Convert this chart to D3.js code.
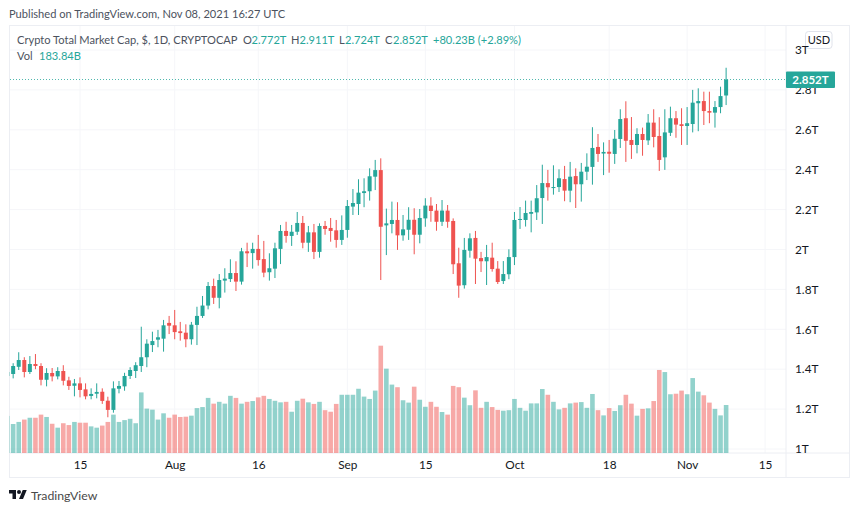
<!DOCTYPE html>
<html>
<head>
<meta charset="utf-8">
<style>
  html, body { margin: 0; padding: 0; background: #fff; }
  svg { display: block; }
  text { font-family: Lato, sans-serif; fill: #131722; }
  .axis path, .axis line { display: none; }
</style>
</head>
<body>
<div id="chart"></div>
<script src="https://cdn.jsdelivr.net/npm/d3@7"></script>
<script>
// date, open, high, low, close (in T), volume (in B)
const rows = [
["2021-07-02",1.366,1.416,1.351,1.386,142],["2021-07-03",1.376,1.430,1.354,1.416,111],["2021-07-04",1.412,1.485,1.396,1.446,119],
["2021-07-05",1.446,1.460,1.359,1.386,128],["2021-07-06",1.386,1.466,1.376,1.426,135],["2021-07-07",1.426,1.476,1.400,1.416,135],
["2021-07-08",1.416,1.430,1.319,1.347,147],["2021-07-09",1.347,1.405,1.314,1.381,138],["2021-07-10",1.381,1.406,1.339,1.364,112],
["2021-07-11",1.364,1.410,1.349,1.391,97],["2021-07-12",1.391,1.420,1.319,1.342,114],["2021-07-13",1.344,1.362,1.296,1.316,107],
["2021-07-14",1.317,1.351,1.264,1.329,119],["2021-07-15",1.329,1.359,1.259,1.296,116],["2021-07-16",1.299,1.329,1.249,1.264,116],
["2021-07-17",1.266,1.304,1.249,1.276,102],["2021-07-18",1.277,1.329,1.254,1.286,97],["2021-07-19",1.287,1.304,1.226,1.241,105],
["2021-07-20",1.242,1.262,1.159,1.196,119],["2021-07-21",1.196,1.339,1.182,1.304,147],["2021-07-22",1.302,1.341,1.279,1.316,119],
["2021-07-23",1.314,1.382,1.292,1.366,126],["2021-07-24",1.366,1.410,1.351,1.396,131],["2021-07-25",1.391,1.435,1.356,1.420,114],
["2021-07-26",1.416,1.613,1.386,1.460,232],["2021-07-27",1.460,1.550,1.410,1.528,170],["2021-07-28",1.521,1.588,1.486,1.541,166],
["2021-07-29",1.548,1.597,1.510,1.560,128],["2021-07-30",1.553,1.647,1.488,1.620,152],["2021-07-31",1.632,1.667,1.576,1.618,135],
["2021-08-01",1.620,1.697,1.550,1.586,147],["2021-08-02",1.590,1.637,1.543,1.581,138],["2021-08-03",1.583,1.625,1.510,1.550,139],
["2021-08-04",1.550,1.637,1.523,1.623,143],["2021-08-05",1.622,1.713,1.521,1.667,172],["2021-08-06",1.667,1.767,1.657,1.719,176],
["2021-08-07",1.719,1.837,1.700,1.817,211],["2021-08-08",1.817,1.854,1.727,1.758,189],["2021-08-09",1.758,1.877,1.705,1.847,196],
["2021-08-10",1.844,1.906,1.784,1.854,189],["2021-08-11",1.852,1.951,1.837,1.882,219],["2021-08-12",1.882,1.941,1.792,1.839,211],
["2021-08-13",1.839,2.008,1.824,1.991,189],["2021-08-14",1.991,2.034,1.912,1.981,196],["2021-08-15",1.982,2.034,1.904,2.003,199],
["2021-08-16",2.003,2.073,1.919,1.947,213],["2021-08-17",1.952,2.043,1.861,1.884,219],["2021-08-18",1.886,1.981,1.844,1.906,207],
["2021-08-19",1.904,2.034,1.857,2.006,200],["2021-08-20",2.003,2.123,1.927,2.093,194],["2021-08-21",2.093,2.139,2.034,2.068,196],
["2021-08-22",2.068,2.123,2.018,2.089,158],["2021-08-23",2.089,2.188,2.073,2.133,200],["2021-08-24",2.133,2.168,2.006,2.034,208],
["2021-08-25",2.034,2.118,1.988,2.086,194],["2021-08-26",2.086,2.128,1.952,1.988,188],["2021-08-27",1.988,2.131,1.959,2.118,196],
["2021-08-28",2.118,2.143,2.074,2.103,164],["2021-08-29",2.108,2.158,2.039,2.093,158],["2021-08-30",2.096,2.148,2.009,2.048,188],
["2021-08-31",2.048,2.171,2.023,2.098,223],["2021-09-01",2.098,2.248,2.059,2.218,223],["2021-09-02",2.215,2.303,2.173,2.233,223],
["2021-09-03",2.228,2.352,2.173,2.285,246],["2021-09-04",2.283,2.357,2.212,2.292,216],["2021-09-05",2.292,2.407,2.245,2.367,207],
["2021-09-06",2.365,2.449,2.298,2.398,239],["2021-09-07",2.398,2.457,1.847,2.114,411],["2021-09-08",2.121,2.205,1.972,2.131,323],
["2021-09-09",2.128,2.240,2.081,2.148,262],["2021-09-10",2.148,2.237,1.998,2.071,252],["2021-09-11",2.071,2.173,2.044,2.101,202],
["2021-09-12",2.099,2.212,2.048,2.149,193],["2021-09-13",2.149,2.207,1.976,2.074,254],["2021-09-14",2.074,2.203,2.031,2.158,204],
["2021-09-15",2.156,2.257,2.114,2.220,177],["2021-09-16",2.220,2.262,2.139,2.193,196],["2021-09-17",2.195,2.228,2.094,2.139,177],
["2021-09-18",2.139,2.248,2.118,2.195,157],["2021-09-19",2.195,2.223,2.109,2.139,147],["2021-09-20",2.143,2.156,1.877,1.926,257],
["2021-09-21",1.931,2.009,1.758,1.819,252],["2021-09-22",1.821,2.058,1.804,1.998,212],["2021-09-23",1.994,2.081,1.959,2.056,183],
["2021-09-24",2.058,2.093,1.827,1.954,240],["2021-09-25",1.957,1.988,1.887,1.941,173],["2021-09-26",1.941,2.023,1.822,1.962,196],
["2021-09-27",1.959,2.034,1.889,1.902,176],["2021-09-28",1.904,1.942,1.827,1.837,165],["2021-09-29",1.842,1.942,1.827,1.877,162],
["2021-09-30",1.876,2.001,1.851,1.962,164],["2021-10-01",1.962,2.188,1.922,2.148,207],["2021-10-02",2.148,2.213,2.103,2.153,173],
["2021-10-03",2.148,2.245,2.115,2.183,162],["2021-10-04",2.179,2.245,2.086,2.188,190],["2021-10-05",2.186,2.323,2.148,2.257,190],
["2021-10-06",2.258,2.425,2.128,2.333,245],["2021-10-07",2.333,2.399,2.245,2.312,223],["2021-10-08",2.310,2.422,2.275,2.313,196],
["2021-10-09",2.313,2.402,2.288,2.357,167],["2021-10-10",2.353,2.419,2.242,2.295,173],["2021-10-11",2.295,2.439,2.237,2.365,190],
["2021-10-12",2.368,2.407,2.208,2.327,193],["2021-10-13",2.327,2.434,2.240,2.390,195],["2021-10-14",2.390,2.482,2.348,2.415,173],
["2021-10-15",2.414,2.613,2.325,2.509,226],["2021-10-16",2.514,2.579,2.439,2.479,164],["2021-10-17",2.481,2.537,2.373,2.489,144],
["2021-10-18",2.490,2.549,2.385,2.480,172],["2021-10-19",2.479,2.599,2.429,2.555,161],["2021-10-20",2.554,2.703,2.509,2.654,183],
["2021-10-21",2.658,2.743,2.439,2.545,223],["2021-10-22",2.549,2.664,2.454,2.524,189],["2021-10-23",2.524,2.608,2.482,2.579,143],
["2021-10-24",2.579,2.611,2.470,2.549,169],["2021-10-25",2.547,2.679,2.524,2.636,171],["2021-10-26",2.636,2.703,2.512,2.564,199],
["2021-10-27",2.569,2.663,2.394,2.449,318],["2021-10-28",2.462,2.703,2.399,2.587,310],["2021-10-29",2.585,2.716,2.569,2.658,225],
["2021-10-30",2.658,2.694,2.560,2.626,227],["2021-10-31",2.628,2.708,2.524,2.619,239],["2021-11-01",2.619,2.714,2.524,2.633,225],
["2021-11-02",2.629,2.800,2.587,2.736,287],["2021-11-03",2.733,2.808,2.593,2.744,235],["2021-11-04",2.744,2.791,2.624,2.694,221],
["2021-11-05",2.694,2.791,2.633,2.686,193],["2021-11-06",2.686,2.744,2.611,2.714,169],["2021-11-07",2.714,2.816,2.683,2.769,144],
["2021-11-08",2.772,2.911,2.724,2.852,183.84]
];

const parseDate = d3.utcParse("%Y-%m-%d");
const data = rows.map(r => ({date: parseDate(r[0]), o: r[1], h: r[2], l: r[3], c: r[4], v: r[5]}));

const green = "#26a69a", red = "#ef5350", border = "#eceef3", grid = "#f5f6f9";
const pane = {left: 9.5, right: 786, top: 25, bottom: 453};

const x = d3.scaleUtc()
  .domain([parseDate("2021-07-15"), parseDate("2021-11-15")])
  .range([80, 765.1]);
const y = d3.scaleLinear().domain([1, 3]).range([449, 50]);
const yVol = d3.scaleLinear().domain([0, 183.84]).range([453, 405]);

const color = d => d.c >= d.o ? green : red;

const svg = d3.select("#chart").append("svg")
  .attr("width", 860)
  .attr("height", 511);

svg.append("clipPath").attr("id", "pane")
  .append("rect")
  .attr("x", pane.left).attr("y", pane.top)
  .attr("width", pane.right - pane.left).attr("height", pane.bottom - pane.top);

const priceTicks = d3.range(1, 3.01, 0.2);
const timeTicks = [
  ["2021-07-15", "15"], ["2021-08-01", "Aug"], ["2021-08-16", "16"], ["2021-09-01", "Sep"],
  ["2021-09-15", "15"], ["2021-10-01", "Oct"], ["2021-10-18", "18"], ["2021-11-01", "Nov"], ["2021-11-15", "15"]
].map(t => ({date: parseDate(t[0]), label: t[1]}));

// grid
svg.append("g").selectAll("line").data(priceTicks).enter().append("line")
  .attr("x1", pane.left).attr("x2", pane.right)
  .attr("y1", d => y(d)).attr("y2", d => y(d))
  .attr("stroke", grid);
svg.append("g").selectAll("line").data(timeTicks).enter().append("line")
  .attr("x1", d => x(d.date)).attr("x2", d => x(d.date))
  .attr("y1", pane.top).attr("y2", pane.bottom)
  .attr("stroke", grid);

// frame
const frame = svg.append("g").attr("fill", "none").attr("stroke", border);
frame.append("rect").attr("x", 9.5).attr("y", 25.5).attr("width", 840).attr("height", 452);
frame.append("line").attr("x1", pane.right).attr("x2", pane.right).attr("y1", 25).attr("y2", 478);
frame.append("line").attr("x1", 9.5).attr("x2", 850).attr("y1", pane.bottom).attr("y2", pane.bottom);

const plot = svg.append("g").attr("clip-path", "url(#pane)");
const bw = 4.6, cw = 4;

// volume
plot.append("g").selectAll("rect").data(data).enter().append("rect")
  .attr("x", d => x(d.date) - bw / 2)
  .attr("y", d => yVol(d.v))
  .attr("width", bw)
  .attr("height", d => yVol(0) - yVol(d.v))
  .attr("fill", color)
  .attr("fill-opacity", 0.5);

// last price line
const lastY = Math.floor(y(2.852)) + 0.5;
plot.append("line")
  .attr("x1", 10).attr("x2", pane.right)
  .attr("y1", lastY).attr("y2", lastY)
  .attr("stroke", green).attr("stroke-dasharray", "1 2").attr("stroke-opacity", 0.8);

// candles
const candle = plot.append("g").selectAll("g").data(data).enter().append("g");
candle.append("line")
  .attr("x1", d => x(d.date)).attr("x2", d => x(d.date))
  .attr("y1", d => y(d.h)).attr("y2", d => y(d.l))
  .attr("stroke", color);
candle.append("rect")
  .attr("x", d => x(d.date) - cw / 2)
  .attr("y", d => y(Math.max(d.o, d.c)))
  .attr("width", cw)
  .attr("height", d => Math.max(1, Math.abs(y(d.o) - y(d.c))))
  .attr("fill", color);

// currency button, under the price labels so 3T stays whole
svg.append("rect")
  .attr("x", 805.5).attr("y", 31.5).attr("width", 26.5).attr("height", 17).attr("rx", 3)
  .attr("fill", "#fff").attr("stroke", "#e0e3eb");
svg.append("text")
  .attr("x", 819).attr("y", 44).attr("text-anchor", "middle")
  .attr("font-size", 11)
  .text("USD");

// axes
const xAxis = d3.axisBottom(x)
  .tickValues(timeTicks.map(d => d.date))
  .tickFormat((d, i) => timeTicks[i].label)
  .tickSize(0).tickPadding(0);
const gx = svg.append("g").attr("class", "axis").attr("transform", "translate(0,461)").call(xAxis);
gx.attr("font-family", null);
gx.selectAll("text").attr("font-size", 11.8).style("fill", "#131722");

const yAxis = d3.axisRight(y)
  .tickValues(priceTicks)
  .tickFormat(d => d3.format(".1~f")(d) + "T")
  .tickSize(0).tickPadding(0);
const gy = svg.append("g").attr("class", "axis").attr("transform", "translate(795,0)").call(yAxis);
gy.attr("font-family", null);
gy.selectAll("text").attr("font-size", 11.8).style("fill", "#131722");

// price label
svg.append("rect")
  .attr("x", 786).attr("y", y(2.852) - 8).attr("width", 49).attr("height", 16.5).attr("rx", 1)
  .attr("fill", green);
svg.append("text")
  .attr("x", 810.5).attr("y", y(2.852) + 4.2).attr("text-anchor", "middle")
  .attr("font-size", 11.5).attr("font-weight", 700).style("fill", "#fff")
  .text("2.852T");

// header text
const headerSize = 11.1;
svg.append("text").attr("x", 9).attr("y", 18).attr("font-size", headerSize).style("fill", "#4c525e")
  .text("Published on TradingView.com, Nov 08, 2021 16:27 UTC");

svg.append("text").attr("x", 17).attr("y", 43.5).attr("font-size", headerSize).style("fill", "#4c525e")
  .text("Crypto Total Market Cap, $, 1D, CRYPTOCAP");

const legend = [
  [243, "O", "#4c525e"], [251.5, "2.772T", green],
  [291, "H", "#4c525e"], [299.5, "2.911T", green],
  [339, "L", "#4c525e"], [345, "2.724T", green],
  [385, "C", "#4c525e"], [393, "2.852T", green],
  [433, "+80.23B (+2.89%)", green]
];
svg.append("g").selectAll("text").data(legend).enter().append("text")
  .attr("x", d => d[0]).attr("y", 43.5).attr("font-size", headerSize)
  .style("fill", d => d[2])
  .text(d => d[1]);

svg.append("text").attr("x", 17).attr("y", 59.5).attr("font-size", headerSize).style("fill", "#4c525e").text("Vol");
svg.append("text").attr("x", 39).attr("y", 59.5).attr("font-size", headerSize).style("fill", green).text("183.84B");

// logo
svg.append("g").attr("transform", "translate(9,488) scale(0.5)").attr("fill", "#131722")
  .call(g => {
    g.append("path").attr("d", "M14 22H7V11H0V4h14v18zM28 22h-8l7.5-18h8L28 22z");
    g.append("circle").attr("cx", 20).attr("cy", 8).attr("r", 4);
  });
svg.append("text").attr("x", 31).attr("y", 500).attr("font-size", 12.3).style("fill", "#4a4a4a").text("TradingView");
</script>
</body>
</html>
